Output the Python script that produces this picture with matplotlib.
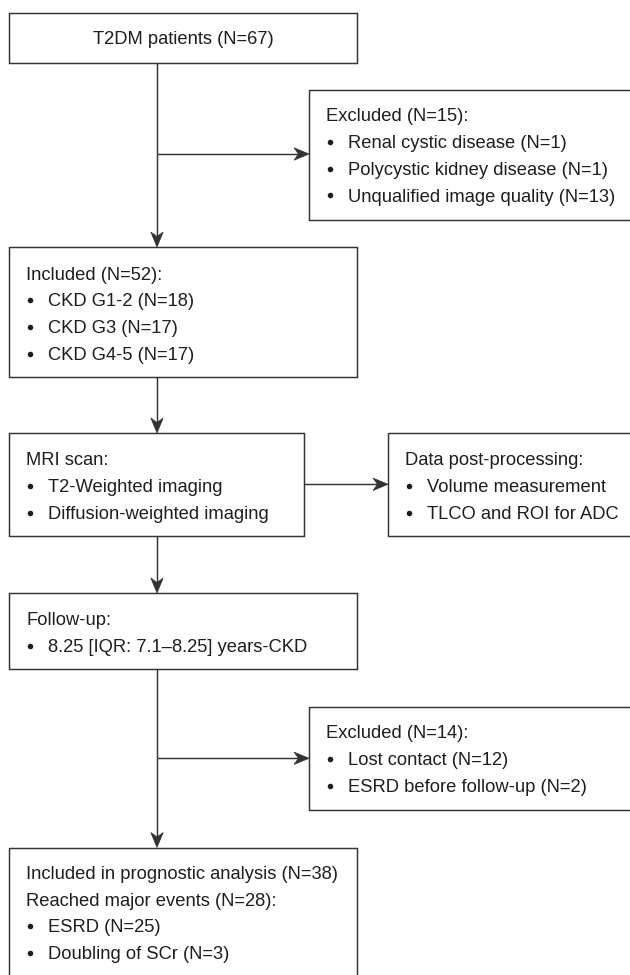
import matplotlib
matplotlib.use("Agg")
import matplotlib.pyplot as plt
from matplotlib.patches import Rectangle, Polygon

# ---------------- content ----------------
top_text = "T2DM patients (N=67)"
excl1_header = ["Excluded (N=15):"]
excl1_items = ["Renal cystic disease (N=1)",
               "Polycystic kidney disease (N=1)",
               "Unqualified image quality (N=13)"]
incl_header = ["Included (N=52):"]
incl_items = ["CKD G1-2 (N=18)", "CKD G3 (N=17)", "CKD G4-5 (N=17)"]
mri_header = ["MRI scan:"]
mri_items = ["T2-Weighted imaging", "Diffusion-weighted imaging"]
post_header = ["Data post-processing:"]
post_items = ["Volume measurement", "TLCO and ROI for ADC"]
fu_header = ["Follow-up:"]
fu_items = ["8.25 [IQR: 7.1\u20138.25] years-CKD"]
excl2_header = ["Excluded (N=14):"]
excl2_items = ["Lost contact (N=12)", "ESRD before follow-up (N=2)"]
final_header = ["Included in prognostic analysis (N=38)",
                "Reached major events (N=28):"]
final_items = ["ESRD (N=25)", "Doubling of SCr (N=3)"]

# ---------------- style / layout ----------------
W, H = 630, 975
LINE_C = "#333333"
TEXT_C = "#1e1e1e"
FS = 13.2
LW = 1.05
SPACING = 26.75
CAP_HALF = 6.4

plt.rcParams['font.family'] = ['Liberation Sans', 'DejaVu Sans']

fig = plt.figure(figsize=(W / 100, H / 100), dpi=100)
ax = fig.add_axes([0, 0, 1, 1])
ax.set_xlim(0, W)
ax.set_ylim(H, 0)
ax.axis("off")


def box(x0, y0, x1, y1):
    ax.add_patch(Rectangle((x0, y0), x1 - x0, y1 - y0, fill=False,
                           edgecolor=LINE_C, linewidth=LW, clip_on=True))


def bullet(x, y):
    ax.plot([x], [y], marker="o", markersize=4.0, color=TEXT_C,
            markeredgewidth=0)


def text_block(x0, first_y, headers, items):
    y = first_y
    for h in headers:
        ax.text(x0 + 17, y + CAP_HALF, h, fontsize=FS, color=TEXT_C,
                ha="left", va="baseline")
        y += SPACING
    for it in items:
        bullet(x0 + 21, y)
        ax.text(x0 + 39, y + CAP_HALF, it, fontsize=FS, color=TEXT_C,
                ha="left", va="baseline")
        y += SPACING


def arrow(x0, y0, x1, y1, L=15.0, hw=6.2, notch=4.5):
    dx, dy = x1 - x0, y1 - y0
    n = (dx * dx + dy * dy) ** 0.5
    ux, uy = dx / n, dy / n
    px, py = -uy, ux
    bx, by = x1 - ux * L, y1 - uy * L
    nx, ny = x1 - ux * (L - notch), y1 - uy * (L - notch)
    ax.plot([x0, nx], [y0, ny], color=LINE_C, lw=LW, solid_capstyle="butt")
    head = [(x1, y1), (bx + px * hw, by + py * hw), (nx, ny),
            (bx - px * hw, by - py * hw)]
    ax.add_patch(Polygon(head, closed=True, facecolor=LINE_C,
                         edgecolor=LINE_C, linewidth=0.5))


def line(x0, y0, x1, y1):
    ax.plot([x0, x1], [y0, y1], color=LINE_C, lw=LW, solid_capstyle="butt")


MAIN_X = 157

# top box
box(9, 12.5, 357, 62.5)
ax.text(183, 37.5 + CAP_HALF, top_text, fontsize=FS, color=TEXT_C,
        ha="center", va="baseline")

# excluded 1
box(309, 90, 645, 220)
text_block(309, 115, excl1_header, excl1_items)
line(MAIN_X, 62.5, MAIN_X, 154)
arrow(MAIN_X, 154, 309, 154)
arrow(MAIN_X, 154, MAIN_X, 247)

# included
box(9, 247, 357, 377)
text_block(9, 273.3, incl_header, incl_items)
arrow(MAIN_X, 377, MAIN_X, 433)

# MRI + post-processing
box(9, 433, 303.5, 536)
text_block(9, 459, mri_header, mri_items)
box(388, 433, 645, 536)
text_block(388, 459, post_header, post_items)
arrow(303.5, 484.3, 388, 484.3)
arrow(MAIN_X, 536, MAIN_X, 593)

# follow-up
box(9, 593, 357, 668.5)
text_block(9, 619, fu_header, fu_items)

# excluded 2
box(309, 707, 645, 810)
text_block(309, 732, excl2_header, excl2_items)
line(MAIN_X, 668.5, MAIN_X, 758.3)
arrow(MAIN_X, 758.3, 309, 758.3)
arrow(MAIN_X, 758.3, MAIN_X, 847.5)

# final
box(9, 847.5, 357, 1000)
text_block(9, 872.5, final_header, final_items)

fig.savefig("out.png", dpi=100, facecolor="white")
